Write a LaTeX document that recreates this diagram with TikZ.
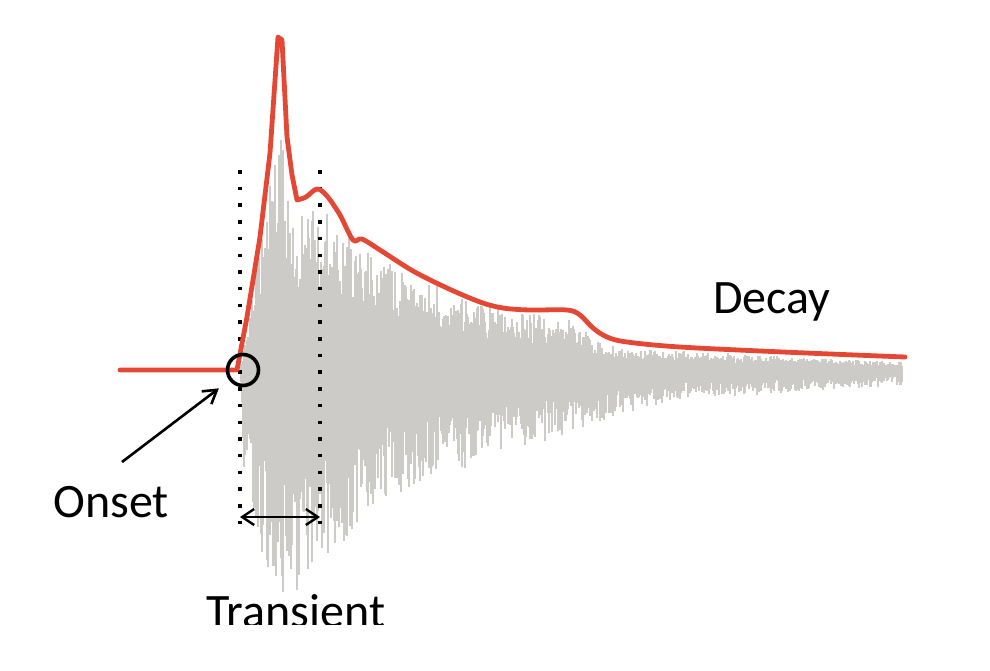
\documentclass[tikz,border=0pt]{standalone}
\usepackage{fontspec}
\setmainfont{Carlito}
\usetikzlibrary{arrows.meta}
\definecolor{envred}{RGB}{228,72,52}
\definecolor{wavegray}{RGB}{204,203,199}
\begin{document}
\begin{tikzpicture}[x=0.5pt,y=-0.5pt,
  wave/.style={draw=wavegray,line width=0.6pt},
  envelope/.style={draw=envred,line width=2.4pt,line join=round,line cap=round},
  guide/.style={draw=black,line width=1.75pt,dash pattern=on 1.75pt off 6.6pt},
  lbl/.style={font=\fontsize{24}{28}\selectfont,inner sep=0pt,text=black},
  marker/.style={circle,draw=black,line width=1.8pt,minimum size=15.5pt,inner sep=0pt},
  pointer/.style={draw=black,line width=1.3pt,-{Straight Barb[length=6.5pt,width=8pt]}},
  span/.style={draw=black,line width=1.2pt,{Straight Barb[length=6pt,width=8pt]}-{Straight Barb[length=6pt,width=8pt]}}]
\useasboundingbox (0,0) rectangle (990,670);
% waveform
\pgfmathsetseed{7}
\foreach \xa/\ua/\la/\xb/\ub/\lb in {
 240/370/370/244/345/470, 244/345/470/250/300/510, 250/300/510/255/275/540,
 255/275/540/262/235/560, 262/235/560/270/175/575, 270/175/575/275/150/582,
 275/150/582/281/100/590, 281/100/590/288/165/597, 288/165/597/297/205/595,
 297/205/595/310/200/585, 310/200/585/318/195/575, 318/195/575/330/210/555,
 330/210/555/340/222/545, 340/222/545/350/235/535, 350/235/535/360/245/525,
 360/245/525/380/258/505, 380/258/505/420/276/485, 420/276/485/470/298/467,
 470/298/467/520/312/450, 520/312/450/570/318/432, 570/318/432/590/334/425,
 590/334/425/610/346/418, 610/346/418/630/349/412, 630/349/412/680/351/400,
 680/351/400/800/357/392, 800/357/392/902/362/385}{
  \pgfmathtruncatemacro\wn{max(1,round((\xb-\xa)/1.0))}
  \foreach \wi in {1,...,\wn}{
    \pgfmathsetmacro\wt{\wi/\wn}
    \pgfmathsetmacro\wx{\xa+\wt*(\xb-\xa)}
    \pgfmathsetmacro\wu{370-(370-(\ua+\wt*(\ub-\ua)))*(0.45+0.55*pow(rnd,1.2))}
    \pgfmathsetmacro\wl{370+((\la+\wt*(\lb-\la))-370)*(0.42+0.58*pow(rnd,1.3))}
    \draw[wave] (\wx,\wu) -- (\wx,\wl);
  }
}
% dotted guides
\coordinate (g1t) at (240,170); \coordinate (g1b) at (240,536);
\coordinate (g2t) at (320,170); \coordinate (g2b) at (320,536);
\draw[guide] (g1t) -- (g1b);
\draw[guide] (g2t) -- (g2b);
% envelope
\draw[envelope] (120,370) -- (237,370) -- (247,317) -- (260,237) -- (270,153) -- (278,37) -- (282,40) -- (287,137) -- (292,175) -- (297,200)
  plot[smooth,tension=0.55] coordinates {(297,200) (306,197) (317,189) (327,196) (340,215) (353,240) (362,239) (380,250) (413,271) (447,288) (480,302) (503,308) (530,310) (567,310) (580,315) (593,328) (607,337) (627,342) (680,347) (783,352) (905,357)};
% onset marker
\node[marker] (circ) at (243,370) {};
\coordinate (onsettail) at (122,462);
\draw[pointer,shorten >=6.5pt] (onsettail) -- (circ);
% transient span
\coordinate (tl) at (240,517); \coordinate (tr) at (320,517);
\draw[span] (tl) -- (tr);
% labels
\node[lbl,anchor=base] (onset) at (111,517) {Onset};
\node[lbl,anchor=base] (decay) at (772,313) {Decay};
\begin{scope}
\clip (0,0) rectangle (990,624);
\node[lbl,anchor=base] (transient) at (296,627) {Transient};
\end{scope}
\end{tikzpicture}
\end{document}
